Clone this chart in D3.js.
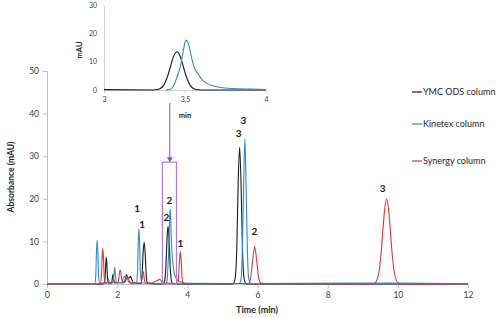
<html>
<head>
<meta charset="utf-8">
<title>Chromatogram - three columns</title>
<script type="text/javascript" src="https://cdn.jsdelivr.net/npm/d3@7/dist/d3.min.js"></script>
<style>
  body { margin:0; background:#fff; }
  text { font-family: Lato, "Open Sans", "Liberation Sans", sans-serif; }
</style>
</head>
<body>
<script type="text/javascript">
  var width = 500;
  var height = 318;

  // series names (legend order)
  var seriesNames = ["YMC ODS column", "Kinetex column", "Synergy column"];

  // [time (min), absorbance (mAU)]
  var ymcData = [
    [0,0],[1.60,0],[1.65,0.9],[1.67,3.8],[1.69,6.3],[1.71,3.8],[1.73,0.9],[1.76,0.2],
    [1.84,0.2],[1.86,1.2],[1.88,2.3],[1.90,1.2],[1.93,0.3],
    [2.20,0.3],[2.24,1.4],[2.27,2.2],[2.30,1.5],[2.34,1.4],[2.38,1.8],[2.42,1.0],[2.47,0.2],
    [2.68,0.1],[2.71,2.0],[2.74,7.5],[2.77,9.8],[2.80,7.0],[2.83,1.8],[2.87,0.2],
    [3.30,0],[3.33,0.15],[3.35,0.6],[3.37,1.8],[3.39,4.4],[3.41,8.2],[3.43,11.9],[3.45,13.5],
    [3.47,11.9],[3.49,8.2],[3.51,4.4],[3.53,1.8],[3.55,0.6],[3.57,0.15],[3.60,0],
    [5.30,0],[5.36,1.2],[5.41,8.5],[5.45,24],[5.49,32.1],[5.53,24],[5.57,8.5],[5.62,1.2],[5.68,0],
    [12,0]
  ];

  var kinetexData = [
    [0,0],[1.36,0],[1.39,2.0],[1.41,7.5],[1.43,10.3],[1.45,7.5],[1.47,2.0],[1.50,0.2],
    [1.70,0.2],[1.72,0.5],[1.75,1.3],[1.78,0.4],
    [1.88,0.3],[1.91,2.2],[1.93,3.9],[1.95,2.2],[1.98,0.4],
    [2.14,0.3],[2.18,1.5],[2.21,1.8],[2.25,1.2],[2.28,1.6],[2.31,0.8],[2.36,0.2],
    [2.55,0.1],[2.58,3.0],[2.60,9.5],[2.62,13.0],[2.64,9.5],[2.66,3.0],[2.70,0.3],
    [3.38,0],[3.41,0.3],[3.43,1.5],[3.45,4.5],[3.47,8.0],[3.49,14.0],[3.505,17.6],[3.52,16.5],
    [3.54,11.5],[3.56,7.5],[3.58,5.8],[3.60,4.0],[3.63,2.5],[3.67,1.5],[3.72,0.9],[3.80,0.5],
    [3.90,0.3],[4.0,0.15],
    [5.48,0.1],[5.53,1.2],[5.57,8.5],[5.61,25],[5.64,34],[5.67,25],[5.71,8.5],[5.75,1.2],[5.82,0.1],
    [9.0,0.2],[10.0,0.2],[12,0]
  ];

  var synergyData = [
    [0,0],[1.52,0],[1.55,1.8],[1.57,6.0],[1.59,8.4],[1.61,6.0],[1.63,1.8],[1.66,0.3],
    [2.02,0.3],[2.05,1.5],[2.08,3.3],[2.10,3.0],[2.13,1.0],[2.16,0.5],
    [2.24,0.6],[2.28,1.9],[2.31,1.4],[2.35,0.6],[2.42,0.2],
    [2.68,0.2],[2.71,1.5],[2.73,3.0],[2.75,2.7],[2.78,0.8],[2.83,0.2],
    [3.00,0.2],[3.08,0.6],[3.15,0.8],[3.20,1.1],[3.25,0.8],[3.30,0.2],
    [3.72,0.1],[3.75,1.5],[3.78,6.0],[3.80,7.6],[3.82,6.0],[3.85,1.5],[3.89,0.1],
    [5.74,0.1],[5.80,1.2],[5.86,5.3],[5.92,8.8],[5.98,5.3],[6.04,1.2],[6.10,0.2],[6.20,0.1],
    [9.30,0],[9.35,0.2],[9.46,2.7],[9.515,6.5],[9.57,12.1],[9.625,17.6],[9.68,20],[9.735,17.6],
    [9.79,12.1],[9.845,6.5],[9.90,2.7],[10.01,0.2],[10.1,0],[12,0]
  ];

  var allSeries = [ymcData, kinetexData, synergyData];

  // tick labels
  var xTicks = [0, 2, 4, 6, 8, 10, 12];
  var yTicks = [0, 10, 20, 30, 40, 50];
  var insetXTicks = [3, 3.5, 4];
  var insetYTicks = [0, 10, 20, 30];

  // peak numbers: [label, time, absorbance]
  var peakLabels = [
    ["1", 2.57, 17.8], ["1", 2.71, 13.9], ["2", 3.49, 19.7], ["2", 3.40, 15.5],
    ["1", 3.80, 9.6], ["3", 5.46, 35.4], ["3", 5.60, 38.3], ["2", 5.91, 12.4],
    ["3", 9.57, 22.5]
  ];

  // zoom box in data units: [t0, t1, top]
  var zoomBox = [3.29, 3.69, 28.6];
  var arrowFrom = [3.5, 42.5];

  var colors = ["#1a1a1a", "#2f8ad0", "#d23a3c"];

  var svg = d3.select("body").append("svg")
              .attr("width", width)
              .attr("height", height)
              .style("background-color", "#fff");

  // main scales
  var x = d3.scaleLinear().domain([0, 12]).range([47, 468]);
  var y = d3.scaleLinear().domain([0, 50]).range([284, 71]);

  var line = d3.line()
               .x(function(d){ return x(d[0]); })
               .y(function(d){ return y(d[1]); })
               .curve(d3.curveMonotoneX);

  var xAxis = svg.append("g")
                 .attr("transform", "translate(0," + y(0) + ")")
                 .call(d3.axisBottom(x).tickValues(xTicks).tickSize(4).tickPadding(4).tickFormat(d3.format("d")));
  var yAxis = svg.append("g")
                 .attr("transform", "translate(" + x(0) + ",0)")
                 .call(d3.axisLeft(y).tickValues(yTicks).tickSize(4).tickPadding(4).tickFormat(d3.format("d")));

  [xAxis, yAxis].forEach(function(g){
    g.selectAll("path").attr("stroke", "#bfbfbf");
    g.selectAll("line").attr("stroke", "#bfbfbf");
    g.selectAll("text").attr("fill", "#404040").style("font-size", "8.5px")
     .style("font-family", "Lato, 'Open Sans', sans-serif");
  });

  svg.append("text")
     .attr("x", 257).attr("y", 313)
     .attr("text-anchor", "middle")
     .style("font-size", "9px").style("font-weight", "bold").attr("fill", "#262626")
     .text("Time (min)");

  svg.append("text")
     .attr("transform", "translate(14,177) rotate(-90)")
     .attr("text-anchor", "middle")
     .style("font-size", "8.5px").style("font-weight", "bold").attr("fill", "#262626")
     .text("Absorbance  (mAU)");

  // series lines
  var plot = svg.append("g");
  allSeries.forEach(function(s, i){
    plot.append("path")
        .datum(s)
        .attr("d", line)
        .attr("fill", "none")
        .attr("stroke", colors[i])
        .attr("stroke-width", 1.1);
  });

  // zoom box and arrow
  svg.append("rect")
     .attr("x", x(zoomBox[0]))
     .attr("y", y(zoomBox[2]))
     .attr("width", x(zoomBox[1]) - x(zoomBox[0]))
     .attr("height", y(0) - y(zoomBox[2]))
     .attr("fill", "none")
     .attr("stroke", "#a67fd4")
     .attr("stroke-width", 1.2);

  svg.append("line")
     .attr("x1", x(arrowFrom[0])).attr("y1", y(arrowFrom[1]))
     .attr("x2", x(arrowFrom[0])).attr("y2", y(zoomBox[2]) - 4)
     .attr("stroke", "#8a55c4").attr("stroke-width", 1);
  svg.append("path")
     .attr("d", "M" + (x(arrowFrom[0]) - 3) + "," + (y(zoomBox[2]) - 5) +
                "L" + (x(arrowFrom[0]) + 3) + "," + (y(zoomBox[2]) - 5) +
                "L" + x(arrowFrom[0]) + "," + y(zoomBox[2]) + "Z")
     .attr("fill", "#8a55c4");

  // peak numbers
  svg.selectAll(".peak")
     .data(peakLabels)
     .enter().append("text")
     .attr("class", "peak")
     .attr("x", function(d){ return x(d[1]); })
     .attr("y", function(d){ return y(d[2]); })
     .attr("dy", "0.35em")
     .attr("text-anchor", "middle")
     .style("font-size", "10px").style("font-weight", "bold").attr("fill", "#1a1a1a")
     .text(function(d){ return d[0]; });

  // legend
  var legendY = [92, 124, 161];
  var legend = svg.selectAll(".legend")
                  .data(seriesNames)
                  .enter().append("g")
                  .attr("transform", function(d, i){ return "translate(412," + legendY[i] + ")"; });
  legend.append("line")
        .attr("x1", 0).attr("x2", 10)
        .attr("stroke", function(d, i){ return colors[i]; })
        .attr("stroke-width", 1.2);
  legend.append("text")
        .attr("x", 11).attr("dy", "0.35em")
        .style("font-size", "9px").attr("fill", "#262626")
        .text(function(d){ return d; });

  // inset
  var ix = d3.scaleLinear().domain([3, 4]).range([104, 266]);
  var iy = d3.scaleLinear().domain([0, 30]).range([90, 5]);

  svg.append("defs").append("clipPath").attr("id", "insetClip")
     .append("rect").attr("x", 104).attr("y", 0).attr("width", 162).attr("height", 91);

  var ixAxis = svg.append("g")
                  .attr("transform", "translate(0," + iy(0) + ")")
                  .call(d3.axisBottom(ix).tickValues(insetXTicks).tickSize(3).tickPadding(4)
                          .tickFormat(function(d){ return String(d).replace(".", ","); }));
  var iyAxis = svg.append("g")
                  .attr("transform", "translate(" + ix(3) + ",0)")
                  .call(d3.axisLeft(iy).tickValues(insetYTicks).tickSize(0).tickPadding(7));
  [ixAxis, iyAxis].forEach(function(g){
    g.selectAll("path").attr("stroke", "#d0d0d0");
    g.selectAll("line").attr("stroke", "#d0d0d0");
    g.selectAll("text").attr("fill", "#404040").style("font-size", "7px")
     .style("font-family", "Lato, 'Open Sans', sans-serif");
  });

  var iline = d3.line()
                .x(function(d){ return ix(d[0]); })
                .y(function(d){ return iy(d[1]); })
                .curve(d3.curveMonotoneX);

  var inset = svg.append("g").attr("clip-path", "url(#insetClip)");
  [ymcData, kinetexData].forEach(function(s, i){
    inset.append("path")
         .datum(s.filter(function(d){ return d[0] >= 2.8 && d[0] <= 5.4; }))
         .attr("d", iline)
         .attr("fill", "none")
         .attr("stroke", colors[i])
         .attr("stroke-width", 1.1);
  });

  svg.append("text")
     .attr("transform", "translate(82,50) rotate(-90)")
     .attr("text-anchor", "middle")
     .style("font-size", "7.5px").style("font-weight", "bold").attr("fill", "#262626")
     .text("mAU");
  svg.append("text")
     .attr("x", 185).attr("y", 118)
     .attr("text-anchor", "middle")
     .style("font-size", "7.5px").style("font-weight", "bold").attr("fill", "#262626")
     .text("min");
</script>
</body>
</html>
